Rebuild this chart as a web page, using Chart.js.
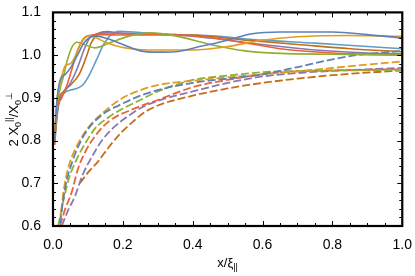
<!DOCTYPE html>
<html>
<head>
<meta charset="utf-8">
<script src="https://cdn.jsdelivr.net/npm/chart.js@4"></script>
<style>
  html, body { margin: 0; padding: 0; background: #fff; }
  #wrap { width: 415px; height: 276px; }
</style>
</head>
<body>
<div id="wrap"><canvas id="c" width="415" height="276"></canvas></div>
<script>
// tick values
const X_TICKS = [0, 0.2, 0.4, 0.6, 0.8, 1.0];
const Y_TICKS = [0.6, 0.7, 0.8, 0.9, 1.0, 1.1];

// solid curves [x, y]
const solidBlue = [[0.005,0.80],[0.01,0.88],[0.02,0.94],[0.035,0.955],[0.05,0.97],[0.07,1.0],[0.09,1.03],[0.12,1.045],[0.15,1.04],[0.2,1.025],[0.25,1.01],[0.3,1.007],[0.35,1.008],[0.42,1.02],[0.5,1.035],[0.57,1.05],[0.65,1.054],[0.8,1.054],[0.9,1.048],[1.0,1.04]];
const solidOrange = [[0.005,0.82],[0.012,0.9],[0.025,0.95],[0.035,0.975],[0.05,0.98],[0.065,1.0],[0.08,1.03],[0.1,1.045],[0.12,1.042],[0.15,1.03],[0.2,1.018],[0.3,1.012],[0.4,1.012],[0.5,1.02],[0.6,1.035],[0.7,1.043],[0.85,1.046],[1.0,1.044]];
const solidGreen = [[0.005,0.8],[0.01,0.87],[0.02,0.92],[0.03,0.95],[0.04,0.985],[0.055,1.02],[0.07,1.03],[0.09,1.025],[0.12,1.017],[0.16,1.028],[0.22,1.045],[0.28,1.052],[0.35,1.045],[0.45,1.025],[0.55,1.01],[0.65,1.004],[0.8,1.002],[1.0,1.0]];
const solidRed = [[0.005,0.79],[0.012,0.87],[0.025,0.9],[0.04,0.93],[0.055,0.97],[0.07,1.01],[0.085,1.035],[0.1,1.045],[0.14,1.048],[0.2,1.047],[0.3,1.048],[0.42,1.044],[0.5,1.035],[0.57,1.026],[0.65,1.015],[0.8,1.005],[1.0,1.0]];
const solidPurple = [[0.005,0.8],[0.015,0.88],[0.03,0.91],[0.05,0.935],[0.07,0.97],[0.09,1.015],[0.105,1.04],[0.125,1.05],[0.16,1.052],[0.25,1.05],[0.35,1.048],[0.45,1.04],[0.6,1.025],[0.75,1.012],[0.9,1.005],[1.0,1.003]];
const solidDarkOrange = [[0.005,0.81],[0.015,0.89],[0.03,0.915],[0.05,0.93],[0.075,0.955],[0.095,0.995],[0.11,1.03],[0.13,1.05],[0.155,1.055],[0.2,1.05],[0.3,1.048],[0.4,1.047],[0.55,1.035],[0.7,1.025],[0.85,1.015],[1.0,1.008]];
const solidLightBlue = [[0.005,0.81],[0.015,0.88],[0.03,0.91],[0.06,0.92],[0.085,0.93],[0.105,0.955],[0.125,0.99],[0.145,1.025],[0.165,1.047],[0.19,1.056],[0.25,1.053],[0.35,1.048],[0.45,1.045],[0.6,1.035],[0.75,1.028],[0.9,1.02],[1.0,1.015]];

// dashed curves [x, y]
const dashBlue = [[0.02,0.607],[0.035,0.69],[0.055,0.75],[0.09,0.814],[0.14,0.86],[0.19,0.883],[0.25,0.905],[0.3,0.918],[0.4,0.935],[0.5,0.945],[0.6,0.955],[0.7,0.972],[0.8,0.99],[0.87,1.0],[1.0,1.01]];
const dashOrange = [[0.02,0.61],[0.03,0.68],[0.045,0.74],[0.07,0.79],[0.1,0.83],[0.15,0.87],[0.2,0.9],[0.25,0.918],[0.3,0.93],[0.4,0.94],[0.5,0.948],[0.6,0.955],[0.7,0.962],[0.8,0.97],[0.9,0.978],[1.0,0.985]];
const dashGreen = [[0.015,0.6],[0.03,0.66],[0.045,0.71],[0.07,0.76],[0.09,0.79],[0.12,0.828],[0.16,0.855],[0.2,0.875],[0.25,0.895],[0.3,0.915],[0.35,0.93],[0.4,0.942],[0.5,0.952],[0.6,0.96],[0.7,0.963],[0.8,0.964],[1.0,0.965]];
const dashRed = [[0.02,0.6],[0.035,0.64],[0.054,0.68],[0.07,0.73],[0.09,0.77],[0.12,0.81],[0.16,0.845],[0.23,0.874],[0.3,0.895],[0.4,0.925],[0.5,0.942],[0.6,0.955],[0.7,0.962],[0.85,0.965],[1.0,0.967]];
const dashPurple = [[0.025,0.6],[0.045,0.64],[0.063,0.67],[0.085,0.72],[0.11,0.76],[0.14,0.8],[0.17,0.828],[0.22,0.86],[0.26,0.88],[0.3,0.893],[0.4,0.915],[0.5,0.935],[0.6,0.95],[0.7,0.958],[0.85,0.965],[1.0,0.97]];
const dashDarkOrange = [[0.077,0.70],[0.1,0.725],[0.13,0.752],[0.16,0.785],[0.19,0.814],[0.23,0.845],[0.26,0.865],[0.3,0.882],[0.4,0.905],[0.5,0.922],[0.6,0.935],[0.7,0.945],[0.8,0.953],[0.9,0.959],[1.0,0.964]];

const BLUE = '#5E81B5', ORANGE = '#E19C24', GREEN = '#8FB032', RED = '#EB6235',
      PURPLE = '#8778B3', DORANGE = '#C56E1A', LBLUE = '#5D9EC7';

const FONT = '"Liberation Sans", Arial, sans-serif';

function series(pts, color, dashed) {
  return {
    data: pts.map(p => ({ x: p[0], y: p[1] })),
    borderColor: color,
    borderWidth: dashed ? 1.8 : 1.6,
    borderDash: dashed ? [8, 3] : [],
    pointRadius: 0,
    fill: false,
    cubicInterpolationMode: 'monotone',
  };
}

// frame with inward ticks on all four sides, plus axis titles with sub/superscripts
const framePlugin = {
  id: 'frame',
  afterDraw(chart) {
    const { ctx, chartArea: a, scales: { x, y } } = chart;
    ctx.save();
    ctx.strokeStyle = '#000';
    ctx.lineWidth = 1;
    for (let v = 0; v <= 1.0001; v += 0.05) {
      const px = Math.round(x.getPixelForValue(v)) + 0.5;
      const major = Math.abs(v * 5 - Math.round(v * 5)) < 1e-6;
      const len = major ? 5 : 3;
      ctx.beginPath();
      ctx.moveTo(px, a.bottom); ctx.lineTo(px, a.bottom - len);
      ctx.moveTo(px, a.top); ctx.lineTo(px, a.top + len);
      ctx.stroke();
    }
    for (let v = 0.6; v <= 1.1001; v += 0.02) {
      const py = Math.round(y.getPixelForValue(v)) + 0.5;
      const major = Math.abs(v * 10 - Math.round(v * 10)) < 1e-6;
      const len = major ? 5 : 3;
      ctx.beginPath();
      ctx.moveTo(a.left, py); ctx.lineTo(a.left + len, py);
      ctx.moveTo(a.right, py); ctx.lineTo(a.right - len, py);
      ctx.stroke();
    }
    ctx.lineWidth = 2.2;
    ctx.strokeRect(a.left, a.top, a.right - a.left, a.bottom - a.top);

    // titles
    ctx.fillStyle = '#000';
    ctx.textBaseline = 'alphabetic';
    function rich(parts) {
      let w = 0;
      parts.forEach(p => {
        ctx.font = (p.s ? '9px ' : '13px ') + FONT;
        w += ctx.measureText(p.t).width;
      });
      return w;
    }
    function drawRich(parts, x0, y0) {
      let cx = x0;
      parts.forEach(p => {
        ctx.font = (p.s ? '9px ' : '13px ') + FONT;
        const dy = p.s === 'sub' ? 3 : p.s === 'sup' ? -6 : 0;
        ctx.fillText(p.t, cx, y0 + dy);
        cx += ctx.measureText(p.t).width;
      });
    }
    const xt = [{ t: 'x/ξ' }, { t: '||', s: 'sub' }];
    const xw = rich(xt);
    drawRich(xt, (a.left + a.right) / 2 - xw / 2, 267);

    const yt = [{ t: '2 X' }, { t: '0', s: 'sub' }, { t: '||', s: 'sup' }, { t: '/X' }, { t: '0', s: 'sub' }, { t: '⊥', s: 'sup' }];
    const yw = rich(yt);
    ctx.translate(18, (a.top + a.bottom) / 2);
    ctx.rotate(-Math.PI / 2);
    drawRich(yt, -yw / 2, 0);
    ctx.restore();
  }
};

new Chart(document.getElementById('c'), {
  type: 'line',
  data: {
    datasets: [
      series(solidBlue, BLUE, false),
      series(solidOrange, ORANGE, false),
      series(solidGreen, GREEN, false),
      series(solidRed, RED, false),
      series(solidPurple, PURPLE, false),
      series(solidDarkOrange, DORANGE, false),
      series(solidLightBlue, LBLUE, false),
      series(dashBlue, BLUE, true),
      series(dashOrange, ORANGE, true),
      series(dashGreen, GREEN, true),
      series(dashRed, RED, true),
      series(dashPurple, PURPLE, true),
      series(dashDarkOrange, DORANGE, true),
    ],
  },
  options: {
    responsive: false,
    animation: false,
    layout: { padding: { left: 0, right: 11, top: 9, bottom: 0 } },
    scales: {
      x: {
        type: 'linear',
        min: 0, max: 1,
        afterBuildTicks: s => { s.ticks = X_TICKS.map(v => ({ value: v })); },
        afterFit: s => { s.height = 50; },
        grid: { display: false },
        border: { display: false },
        ticks: { color: '#000', padding: 3, font: { size: 14, family: FONT }, callback: v => v.toFixed(1) },
      },
      y: {
        type: 'linear',
        min: 0.6, max: 1.1,
        afterBuildTicks: s => { s.ticks = Y_TICKS.map(v => ({ value: v })); },
        afterFit: s => { s.width = 53; },
        grid: { display: false },
        border: { display: false },
        ticks: { color: '#000', padding: 4, font: { size: 14, family: FONT }, callback: v => v.toFixed(1) },
      },
    },
    plugins: { legend: { display: false }, tooltip: { enabled: false } },
  },
  plugins: [framePlugin],
});
</script>
</body>
</html>
